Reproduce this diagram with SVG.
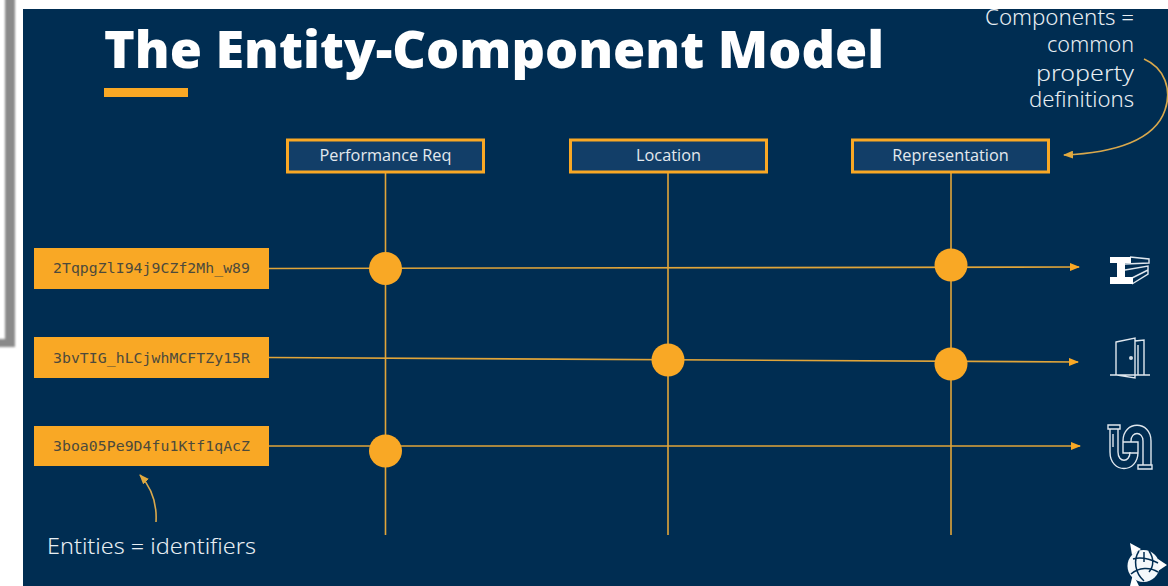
<svg xmlns="http://www.w3.org/2000/svg" width="1168" height="586" viewBox="0 0 1168 586">
<defs>
<marker id="ah" markerUnits="userSpaceOnUse" markerWidth="10" markerHeight="8" refX="9" refY="4" orient="auto"><path d="M0,0 L10,4 L0,8 Z" fill="#f9a825"/></marker>
<marker id="ah2" markerUnits="userSpaceOnUse" markerWidth="10" markerHeight="8" refX="9" refY="4" orient="auto"><path d="M0,0 L10,4 L0,8 Z" fill="#e0a93f"/></marker>
<filter id="bl" x="-30%" y="-30%" width="160%" height="160%"><feGaussianBlur stdDeviation="1.3"/></filter>
</defs>
<style>
.line{stroke:#e0a53a;stroke-width:1.6;fill:none}
.hand{stroke:#d9a84c;stroke-width:1.6;fill:none}
.comp rect{fill:#123e68;stroke:#f9a825;stroke-width:3}
.comp text{font:16.3px "Open Sans",sans-serif;fill:#e4e9ee;text-anchor:middle}
.ent rect{fill:#f9a825}
.ent text{font:14.8px "DejaVu Sans Mono",monospace;fill:#4c4a3c;text-anchor:middle}
.dot{fill:#f9a825}
.note{font-family:"Noto Sans",sans-serif;font-weight:300;font-size:21px;fill:#e8eef2}
.ic{fill:none;stroke:#dfe7ee;stroke-width:1.4}
</style>
<rect width="1168" height="586" fill="#ffffff"/>
<path d="M5 -10H15V347H-10V339H5Z" fill="#8a8a8a" filter="url(#bl)"/>
<rect x="23" y="9" width="1145" height="577" fill="#002d52"/>
<g id="title">
<text x="104" y="68" font-family="'Open Sans',sans-serif" font-weight="800" font-size="52" fill="#ffffff" textLength="780" lengthAdjust="spacingAndGlyphs">The Entity-Component Model</text>
<rect x="104" y="88" width="84" height="9" fill="#f9a825"/>
</g>
<g id="connectors">
<path class="line" d="M385.500 172V535M668 172V535M951 172V535"/>
<path class="line" marker-end="url(#ah)" d="M269 268.500L1079 267"/>
<path class="line" marker-end="url(#ah)" d="M269 357.500L1078 362"/>
<path class="line" marker-end="url(#ah)" d="M269 446L1080 446"/>
<path class="hand" marker-end="url(#ah2)" d="M1144 59C1165 68 1172 90 1165 110C1155 140 1115 153 1064 155"/>
<path class="hand" marker-end="url(#ah2)" d="M156 522C157 505 152 488 140 475"/>
</g>
<g id="comp-performance" class="comp"><rect x="287.500" y="140" width="196" height="32"/><text x="385.500" y="161">Performance Req</text></g>
<g id="comp-location" class="comp"><rect x="570.500" y="140" width="196" height="32"/><text x="668.500" y="161">Location</text></g>
<g id="comp-representation" class="comp"><rect x="852.500" y="140" width="196" height="32"/><text x="950.500" y="161">Representation</text></g>
<g id="entity-1" class="ent"><rect x="34" y="248" width="235" height="41"/><text x="151.500" y="273" textLength="197">2TqpgZlI94j9CZf2Mh_w89</text></g>
<g id="entity-2" class="ent"><rect x="34" y="337" width="235" height="41"/><text x="151.500" y="363" textLength="197">3bvTIG_hLCjwhMCFTZy15R</text></g>
<g id="entity-3" class="ent"><rect x="34" y="426" width="235" height="40"/><text x="151.500" y="451" textLength="197">3boa05Pe9D4fu1Ktf1qAcZ</text></g>
<g id="dots">
<circle class="dot" cx="385.500" cy="268.500" r="16.500"/>
<circle class="dot" cx="951" cy="265" r="16.500"/>
<circle class="dot" cx="668" cy="360" r="16.500"/>
<circle class="dot" cx="951" cy="364" r="16.500"/>
<circle class="dot" cx="385.500" cy="451" r="16.500"/>
</g>
<g id="note-components" class="note">
<text x="985" y="25" textLength="149" lengthAdjust="spacingAndGlyphs">Components =</text>
<text x="1047" y="52" textLength="87" lengthAdjust="spacingAndGlyphs">common</text>
<text x="1036" y="81" textLength="98" lengthAdjust="spacingAndGlyphs">property</text>
<text x="1029" y="107" textLength="105" lengthAdjust="spacingAndGlyphs">definitions</text>
</g>
<text id="note-entities" class="note" x="47" y="554" textLength="209" lengthAdjust="spacingAndGlyphs">Entities = identifiers</text>
<g id="icon-beam">
<path class="ic" d="M1130 257L1149 259V263L1125 264M1125 270L1148 266V274L1132 284M1132 278L1148 270"/>
<path fill="#ffffff" d="M1110 257H1131V263H1125V277H1133V284H1110V277H1117V263H1110Z"/>
</g>
<g id="icon-door">
<path class="ic" d="M1110 375H1150M1116 342L1135 338V378L1116 375ZM1135 341L1144 340V375M1138 345V375"/>
<circle cx="1131" cy="358" r="2" fill="#cfd9e2"/>
</g>
<g id="icon-pipe">
<path class="ic" d="M1108 425H1120V429H1108ZM1110 429V452C1110 474 1138 474 1138 452V442M1118 429V452C1118 463 1130 463 1130 452M1123 442V441C1123 420 1151 420 1151 441V465M1131 442V441C1131 431 1143 431 1143 441V465M1123 442H1138V453H1123ZM1123 442V453M1138 465H1152V469H1138ZM1113 434V447"/>
</g>
<g id="logo">
<path fill="#ffffff" d="M1130 543L1141 549L1132 555ZM1167 565L1158 559V571ZM1130 586L1133 574L1139 586Z"/>
<circle cx="1143.500" cy="566" r="16" fill="#f4f8fb"/>
<path fill="none" stroke="#002d52" stroke-width="1.500" d="M1131 574C1139 567 1150 567 1158 572M1139 551C1133 560 1135 573 1144 581M1149 551C1154 558 1154 566 1149 572M1133 559C1140 557 1150 559 1158 563M1144 552V562"/>
</g>
</svg>
